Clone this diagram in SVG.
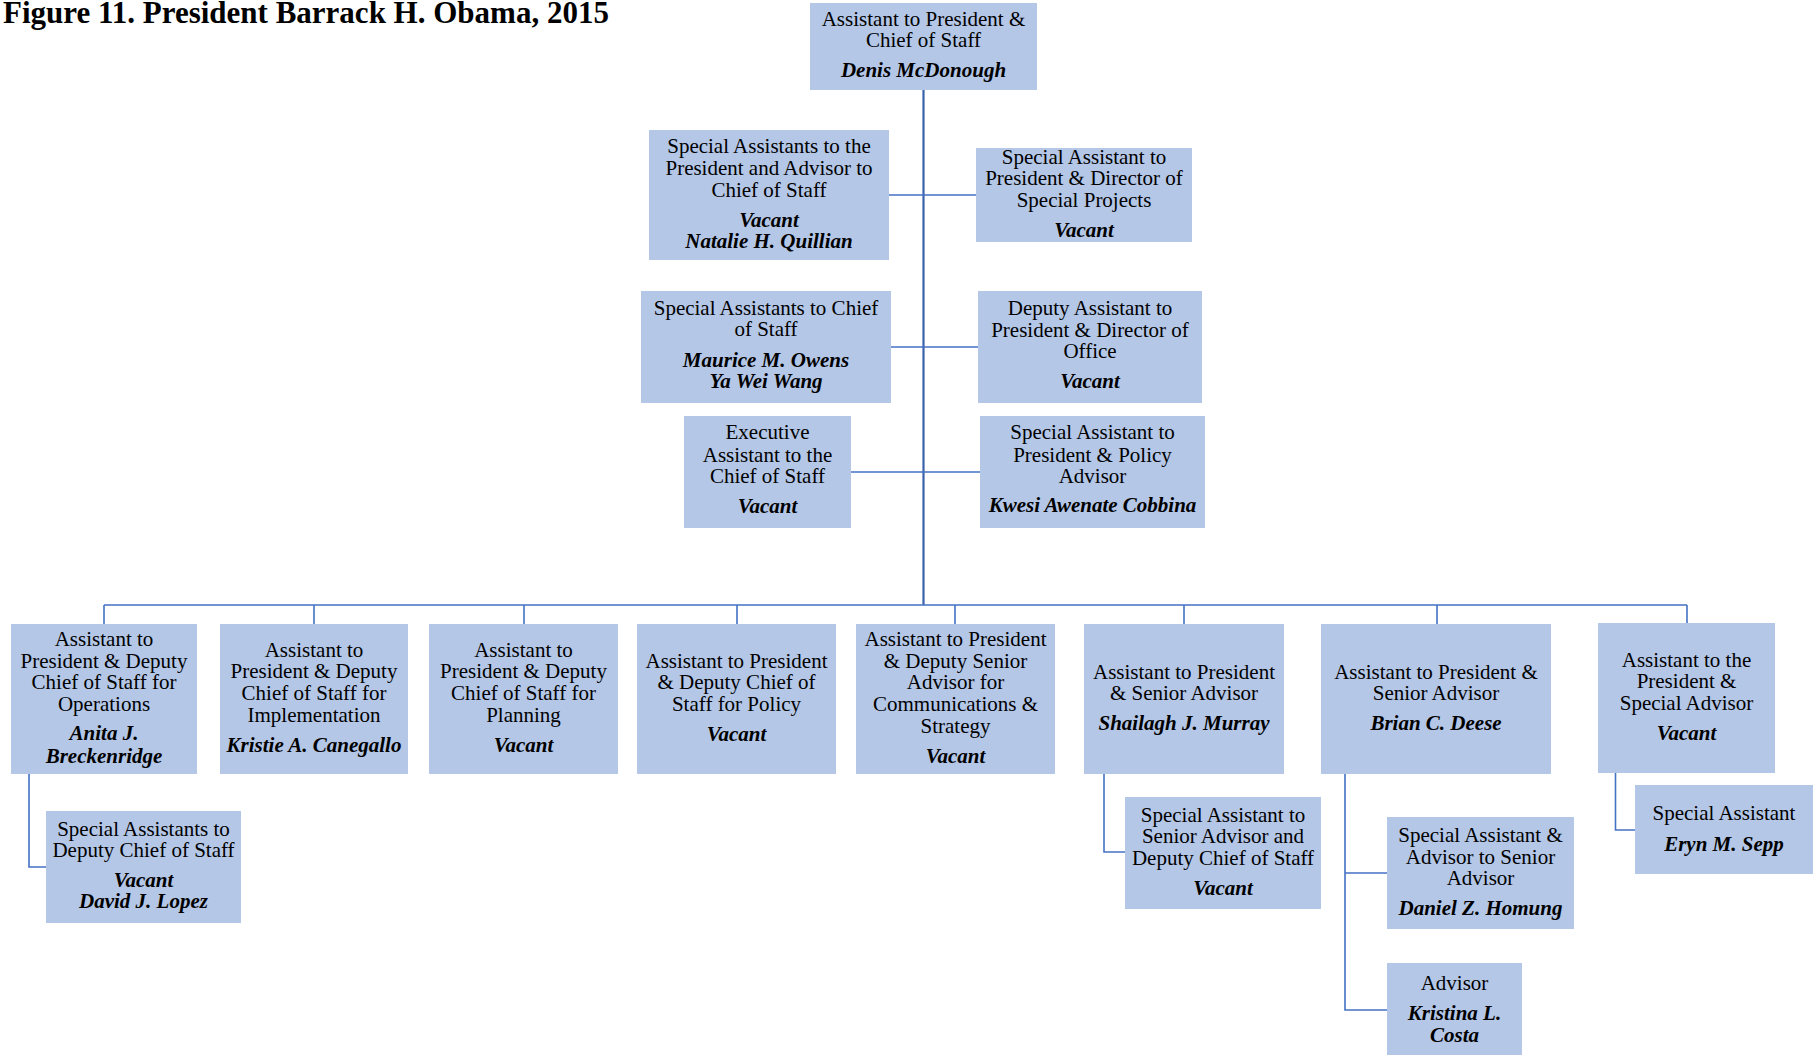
<svg xmlns="http://www.w3.org/2000/svg" width="1814" height="1055" viewBox="0 0 1814 1055">
<style>
.box{fill:#B4C7E7}
.t{font-family:"Liberation Serif","Times New Roman",serif;font-size:21px;fill:#000;text-anchor:middle}
.n{font-style:italic;font-weight:bold}
.title{font-family:"Liberation Serif","Times New Roman",serif;font-size:31px;font-weight:bold;fill:#000}
.main{stroke:#3A62AC;stroke-width:2.2;fill:none}
.sub{stroke:#4472C4;stroke-width:1.6;fill:none}
</style>
<rect width="1814" height="1055" fill="#fff"/>
<text class="title" x="3" y="23">Figure 11. President Barrack H. Obama, 2015</text>

<g id="connectors">
<path class="main" d="M923.5 90V605"/>
<path class="sub" d="M889 195H976M891 347H978M851 472H980"/>
<path class="sub" d="M104 605H1687M104 605V624M314 605V624M524 605V624M737 605V624M955 605V624M1184 605V624M1437 605V624M1687 605V623"/>
<path class="sub" d="M29 774V867H46"/>
<path class="sub" d="M1104 774V852H1125"/>
<path class="sub" d="M1345 774V1010H1387M1345 873H1387"/>
<path class="sub" d="M1615.5 773V830H1635"/>
</g>

<g id="n-cos">
<rect class="box" x="810" y="3" width="227" height="87"/>
<text class="t" x="923.5" y="26">Assistant to President &amp;</text>
<text class="t" x="923.5" y="47">Chief of Staff</text>
<text class="t n" x="923.5" y="77">Denis McDonough</text>
</g>

<g id="n-sa-advisor">
<rect class="box" x="649" y="130" width="240" height="130"/>
<text class="t" x="769" y="153">Special Assistants to the</text>
<text class="t" x="769" y="175">President and Advisor to</text>
<text class="t" x="769" y="197">Chief of Staff</text>
<text class="t n" x="769" y="227">Vacant</text>
<text class="t n" x="769" y="248">Natalie H. Quillian</text>
</g>

<g id="n-special-projects">
<rect class="box" x="976" y="148" width="216" height="94"/>
<text class="t" x="1084" y="164">Special Assistant to</text>
<text class="t" x="1084" y="185">President &amp; Director of</text>
<text class="t" x="1084" y="207">Special Projects</text>
<text class="t n" x="1084" y="237">Vacant</text>
</g>

<g id="n-sa-cos">
<rect class="box" x="641" y="291" width="250" height="112"/>
<text class="t" x="766" y="315">Special Assistants to Chief</text>
<text class="t" x="766" y="336">of Staff</text>
<text class="t n" x="766" y="367">Maurice M. Owens</text>
<text class="t n" x="766" y="388">Ya Wei Wang</text>
</g>

<g id="n-director-office">
<rect class="box" x="978" y="291" width="224" height="112"/>
<text class="t" x="1090" y="315">Deputy Assistant to</text>
<text class="t" x="1090" y="337">President &amp; Director of</text>
<text class="t" x="1090" y="358">Office</text>
<text class="t n" x="1090" y="388">Vacant</text>
</g>

<g id="n-exec-assistant">
<rect class="box" x="684" y="416" width="167" height="112"/>
<text class="t" x="767.5" y="439">Executive</text>
<text class="t" x="767.5" y="462">Assistant to the</text>
<text class="t" x="767.5" y="483">Chief of Staff</text>
<text class="t n" x="767.5" y="513">Vacant</text>
</g>

<g id="n-policy-advisor">
<rect class="box" x="980" y="416" width="225" height="112"/>
<text class="t" x="1092.5" y="439">Special Assistant to</text>
<text class="t" x="1092.5" y="462">President &amp; Policy</text>
<text class="t" x="1092.5" y="483">Advisor</text>
<text class="t n" x="1092.5" y="512">Kwesi Awenate Cobbina</text>
</g>

<g id="n-operations">
<rect class="box" x="11" y="624" width="186" height="150"/>
<text class="t" x="104" y="646">Assistant to</text>
<text class="t" x="104" y="668">President &amp; Deputy</text>
<text class="t" x="104" y="689">Chief of Staff for</text>
<text class="t" x="104" y="711">Operations</text>
<text class="t n" x="104" y="740">Anita J.</text>
<text class="t n" x="104" y="763">Breckenridge</text>
</g>

<g id="n-implementation">
<rect class="box" x="220" y="624" width="188" height="150"/>
<text class="t" x="314" y="657">Assistant to</text>
<text class="t" x="314" y="678">President &amp; Deputy</text>
<text class="t" x="314" y="700">Chief of Staff for</text>
<text class="t" x="314" y="722">Implementation</text>
<text class="t n" x="314" y="752">Kristie A. Canegallo</text>
</g>

<g id="n-planning">
<rect class="box" x="429" y="624" width="189" height="150"/>
<text class="t" x="523.5" y="657">Assistant to</text>
<text class="t" x="523.5" y="678">President &amp; Deputy</text>
<text class="t" x="523.5" y="700">Chief of Staff for</text>
<text class="t" x="523.5" y="722">Planning</text>
<text class="t n" x="523.5" y="752">Vacant</text>
</g>

<g id="n-policy">
<rect class="box" x="637" y="624" width="199" height="150"/>
<text class="t" x="736.5" y="668">Assistant to President</text>
<text class="t" x="736.5" y="689">&amp; Deputy Chief of</text>
<text class="t" x="736.5" y="711">Staff for Policy</text>
<text class="t n" x="736.5" y="741">Vacant</text>
</g>

<g id="n-communications">
<rect class="box" x="856" y="624" width="199" height="150"/>
<text class="t" x="955.5" y="646">Assistant to President</text>
<text class="t" x="955.5" y="668">&amp; Deputy Senior</text>
<text class="t" x="955.5" y="689">Advisor for</text>
<text class="t" x="955.5" y="711">Communications &amp;</text>
<text class="t" x="955.5" y="733">Strategy</text>
<text class="t n" x="955.5" y="763">Vacant</text>
</g>

<g id="n-murray">
<rect class="box" x="1084" y="624" width="200" height="150"/>
<text class="t" x="1184" y="679">Assistant to President</text>
<text class="t" x="1184" y="700">&amp; Senior Advisor</text>
<text class="t n" x="1184" y="730">Shailagh J. Murray</text>
</g>

<g id="n-deese">
<rect class="box" x="1321" y="624" width="230" height="150"/>
<text class="t" x="1436" y="679">Assistant to President &amp;</text>
<text class="t" x="1436" y="700">Senior Advisor</text>
<text class="t n" x="1436" y="730">Brian C. Deese</text>
</g>

<g id="n-special-advisor">
<rect class="box" x="1598" y="623" width="177" height="150"/>
<text class="t" x="1686.5" y="667">Assistant to the</text>
<text class="t" x="1686.5" y="688">President &amp;</text>
<text class="t" x="1686.5" y="710">Special Advisor</text>
<text class="t n" x="1686.5" y="740">Vacant</text>
</g>

<g id="n-sa-deputy-cos">
<rect class="box" x="46" y="811" width="195" height="112"/>
<text class="t" x="143.5" y="836">Special Assistants to</text>
<text class="t" x="143.5" y="857">Deputy Chief of Staff</text>
<text class="t n" x="143.5" y="887">Vacant</text>
<text class="t n" x="143.5" y="908">David J. Lopez</text>
</g>

<g id="n-sa-senior-advisor">
<rect class="box" x="1125" y="797" width="196" height="112"/>
<text class="t" x="1223" y="822">Special Assistant to</text>
<text class="t" x="1223" y="843">Senior Advisor and</text>
<text class="t" x="1223" y="865">Deputy Chief of Staff</text>
<text class="t n" x="1223" y="895">Vacant</text>
</g>

<g id="n-homung">
<rect class="box" x="1387" y="817" width="187" height="112"/>
<text class="t" x="1480.5" y="842">Special Assistant &amp;</text>
<text class="t" x="1480.5" y="864">Advisor to Senior</text>
<text class="t" x="1480.5" y="885">Advisor</text>
<text class="t n" x="1480.5" y="915">Daniel Z. Homung</text>
</g>

<g id="n-costa">
<rect class="box" x="1387" y="963" width="135" height="92"/>
<text class="t" x="1454.5" y="990">Advisor</text>
<text class="t n" x="1454.5" y="1020">Kristina L.</text>
<text class="t n" x="1454.5" y="1042">Costa</text>
</g>

<g id="n-sepp">
<rect class="box" x="1635" y="785" width="178" height="89"/>
<text class="t" x="1724" y="820">Special Assistant</text>
<text class="t n" x="1724" y="851">Eryn M. Sepp</text>
</g>
</svg>
